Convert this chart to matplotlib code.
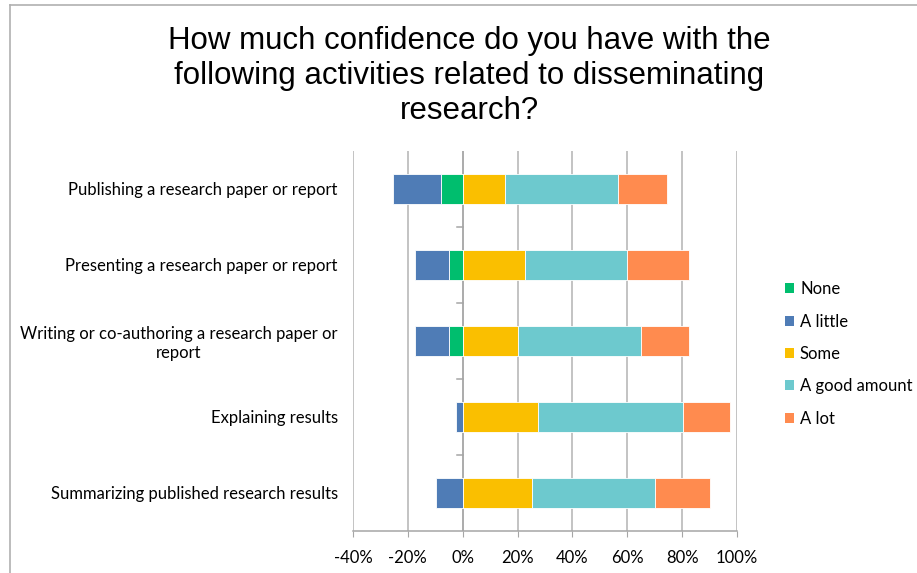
import matplotlib
matplotlib.use("Agg")
import matplotlib.pyplot as plt
from matplotlib.lines import Line2D
from matplotlib.patches import Patch
import numpy as np

categories = [
    "Publishing a research paper or report",
    "Presenting a research paper or report",
    "Writing or co-authoring a research paper or\nreport",
    "Explaining results",
    "Summarizing published research results",
]
levels = ["None", "A little", "Some", "A good amount", "A lot"]

# percentages of respondents per confidence level
none_pct = [7.9, 4.9, 4.9, 0.0, 0.0]
little_pct = [17.6, 12.5, 12.5, 2.4, 9.8]
some_pct = [15.4, 22.6, 20.0, 27.6, 25.2]
good_pct = [41.1, 37.4, 45.1, 52.6, 44.9]
lot_pct = [17.9, 22.4, 17.3, 17.2, 19.9]

x_ticks = [-40, -20, 0, 20, 40, 60, 80, 100]

colors = {
    "None": "#00BE6E",
    "A little": "#4F7CB6",
    "Some": "#FABF00",
    "A good amount": "#6DC9CE",
    "A lot": "#FF8B4F",
}

label_font = "Lato"

fig = plt.figure(figsize=(9.17, 5.73), dpi=100)
ax = fig.add_axes([353 / 917, 1 - 531 / 573, 384 / 917, 380 / 573])

y = np.arange(len(categories))
h = 0.385
none_a = np.array(none_pct)
little_a = np.array(little_pct)
some_a = np.array(some_pct)
good_a = np.array(good_pct)
lot_a = np.array(lot_pct)

kw = dict(height=h, edgecolor="white", linewidth=0.6, zorder=3)
ax.barh(y, -none_a, left=0, color=colors["None"], **kw)
ax.barh(y, -little_a, left=-none_a, color=colors["A little"], **kw)
ax.barh(y, some_a, left=0, color=colors["Some"], **kw)
ax.barh(y, good_a, left=some_a, color=colors["A good amount"], **kw)
ax.barh(y, lot_a, left=some_a + good_a, color=colors["A lot"], **kw)

ax.set_xlim(-40, 100)
ax.set_ylim(len(categories) - 0.5, -0.5)
ax.set_xticks(x_ticks)
ax.set_xticklabels([f"{t}%" for t in x_ticks], fontsize=12, family=label_font)
ax.tick_params(axis="x", length=4, color="#A6A6A6", pad=10)
ax.grid(axis="x", color="#B3B3B3", linewidth=1.1, zorder=0)
ax.set_axisbelow(True)

ax.set_yticks(y)
ax.set_yticklabels(categories, fontsize=12, family=label_font, multialignment="center")
ax.tick_params(axis="y", length=0, pad=11)

for s in ["top", "right", "left"]:
    ax.spines[s].set_visible(False)
ax.spines["bottom"].set_color("#A6A6A6")
ax.spines["bottom"].set_linewidth(1.1)

# category axis line and separator ticks at zero
ax.axvline(0, color="#A6A6A6", linewidth=1.1, zorder=1)
for b in np.arange(0.5, len(categories) - 0.5, 1.0):
    ax.plot([-2.2, 0], [b, b], color="#A6A6A6", linewidth=1.1, zorder=1, clip_on=False)

fig.text(469 / 917, 1 - 26 / 573,
         "How much confidence do you have with the\nfollowing activities related to disseminating\nresearch?",
         ha="center", va="top", fontsize=22.5, family="Liberation Sans", linespacing=1.22)

handles = [Patch(facecolor=colors[l], edgecolor="none") for l in levels]
fig.legend(handles, levels, loc="center left", bbox_to_anchor=(770 / 917, 1 - 354 / 573),
           frameon=False, prop={"family": label_font, "size": 12},
           handlelength=0.55, handleheight=0.55, handletextpad=0.35, labelspacing=0.98)

# chart frame edges
fig.add_artist(Line2D([10 / 917, 1], [1 - 5 / 573, 1 - 5 / 573], color="#B0B0B0", linewidth=1.2))
fig.add_artist(Line2D([10 / 917, 10 / 917], [0, 1 - 5 / 573], color="#B0B0B0", linewidth=1.2))

fig.savefig("out.png", dpi=100)
